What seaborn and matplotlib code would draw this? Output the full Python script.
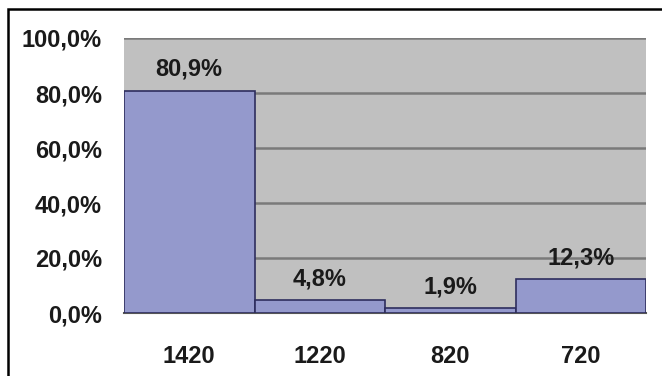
import matplotlib
matplotlib.use("Agg")
import matplotlib.pyplot as plt
import seaborn as sns
import pandas as pd
from matplotlib.patches import Rectangle

# dados do grafico
categorias = ["1420", "1220", "820", "720"]
valores = [80.9, 4.8, 1.9, 12.3]
rotulos = ["80,9%", "4,8%", "1,9%", "12,3%"]
yticks = [0, 20, 40, 60, 80, 100]
ytick_labels = ["0,0%", "20,0%", "40,0%", "60,0%", "80,0%", "100,0%"]

sns.set_style("white")
plt.rcParams["font.family"] = ["Liberation Sans", "DejaVu Sans"]

df = pd.DataFrame({"cat": categorias, "val": valores})

fig = plt.figure(figsize=(6.62, 3.76), dpi=100)
fig.patch.set_facecolor("white")
ax = fig.add_axes([124 / 662, 1 - 313 / 376, (646 - 124) / 662, (313 - 38) / 376])
ax.set_facecolor("#C0C0C0")

sns.barplot(data=df, x="cat", y="val", color="#9499CC", width=1.0,
            edgecolor="#2E2E5E", linewidth=1.2, saturation=1, ax=ax, zorder=3)

ax.set_ylim(0, 100)
ax.set_xlim(-0.5, 3.5)
ax.set_yticks(yticks)
ax.set_yticklabels(ytick_labels, fontsize=17, fontweight="bold", color="#1a1a1a")
ax.yaxis.grid(True, color="#7a7a7a", linewidth=1.8, zorder=1)
ax.set_axisbelow(True)

ax.set_xticks(range(len(categorias)))
ax.set_xticklabels(categorias, fontsize=17, fontweight="bold", color="#1a1a1a")
ax.tick_params(axis="x", which="major", length=0, pad=23)
ax.set_xticks([-0.5, 0.5, 1.5, 2.5, 3.5], minor=True)
ax.tick_params(axis="x", which="minor", length=7, color="#999999", width=1.2)
ax.tick_params(axis="y", length=6, color="#999999", width=1.2, pad=10)
ax.set_xlabel("")
ax.set_ylabel("")

for s in ["left", "right", "top"]:
    ax.spines[s].set_visible(False)
ax.spines["bottom"].set_color("#555555")
ax.spines["bottom"].set_linewidth(1.5)

for i, (v, r) in enumerate(zip(valores, rotulos)):
    ax.annotate(r, (i, v), xytext=(0, 7), textcoords="offset points",
                ha="center", va="bottom", fontsize=17, fontweight="bold",
                color="#1a1a1a", zorder=5)

# moldura externa
fig.patches.append(Rectangle((8 / 662, -0.02), 1.1, 1 - 9 / 376 + 0.02,
                             transform=fig.transFigure, fill=False,
                             edgecolor="black", linewidth=1.8))

fig.savefig("out.png", dpi=100)
